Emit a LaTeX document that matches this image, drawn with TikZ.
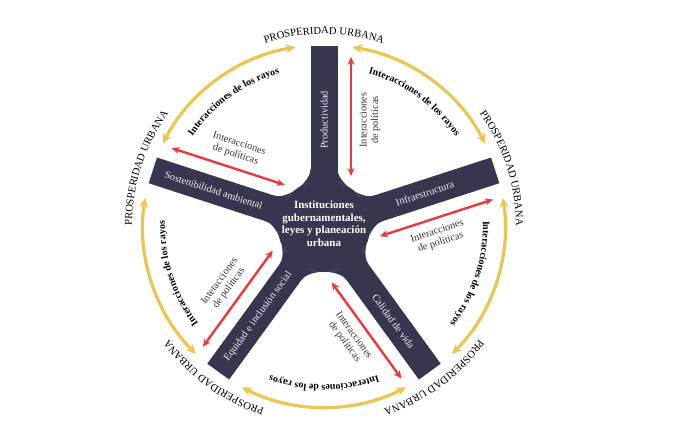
\documentclass[tikz,border=0pt]{standalone}
\usepackage{fontspec}
\setmainfont{Liberation Serif}
\usetikzlibrary{arrows.meta,decorations.text}
\definecolor{navy}{HTML}{37364F}
\definecolor{gold}{HTML}{EBC551}
\definecolor{redl}{HTML}{E8393D}
\definecolor{txtgray}{HTML}{333333}
\definecolor{lighttxt}{HTML}{ECECF2}
\begin{document}
\begin{tikzpicture}[x=1pt,y=1pt,
  spokelabel/.style={text=lighttxt,font=\fontsize{10.3}{12}\selectfont,inner sep=0pt},
  poltext/.style={text=txtgray,font=\fontsize{10.3}{11.5}\selectfont,align=center,inner sep=0pt},
  hubtext/.style={text=white,font=\bfseries\fontsize{11}{12.5}\selectfont,align=center,inner sep=0pt},
  redarrow/.style={draw=redl,line width=2.4pt,{Stealth[length=8pt,width=7pt]}-{Stealth[length=8pt,width=7pt]}},
  goldarrow/.style={draw=gold,line width=3.2pt,{Stealth[length=10pt,width=9pt]}-{Stealth[length=10pt,width=9pt]}}
]
\useasboundingbox (-324,-218) rectangle (355,226);
% spokes and hub
\fill[navy] (0,0) circle (46);
\foreach \a/\lab/\lr/\ld [count=\i] in {90/Productividad/90/106, 18/Infraestructura/18/106, -54/Calidad de vida/-54/118, -126/Equidad e inclusión social/54/112, 162/Sostenibilidad ambiental/-18/116}{
  \begin{scope}[rotate=\a]
    \fill[navy] (0,-13.5) rectangle (180,13.5);
    \fill[navy] (57,-13.5) .. controls (47,-13.5) and (38.5,-24.5) .. (30.8,-34.2)
       arc[start angle=-48, end angle=48, radius=46]
       .. controls (38.5,24.5) and (47,13.5) .. (57,13.5) -- cycle;
    \node[spokelabel,rotate=\lr] (s\i) at (\ld,0) {\lab};
    \coordinate (ra\i) at (50,-27);
    \coordinate (rb\i) at (169,-27);
    \draw[redarrow] (ra\i) -- (rb\i);
    \node[poltext,rotate=\lr] (pt\i) at (106,-46) {Interacciones\\de políticas};
  \end{scope}
  % outer labels
  \path[decorate,decoration={text along path,text align=center,
     text={|\fontsize{10.6}{12}\selectfont|PROSPERIDAD URBANA}}]
     (\a+30:192) arc[start angle=\a+30,end angle=\a-30,radius=192];
  % gold arcs
  \coordinate (ya\i) at (\a-9:181);
  \draw[goldarrow] (ya\i) arc[start angle=\a-9,end angle=\a-63,radius=181];
  \path[decorate,decoration={text along path,text align=center,
     text={|\bfseries\fontsize{10}{12}\selectfont|Interacciones de los rayos}}]
     (\a:159) arc[start angle=\a,end angle=\a-72,radius=159];
}
\node[hubtext] (hub) at (0,2) {Instituciones\\gubernamentales,\\leyes y planeación\\urbana};
\end{tikzpicture}
\end{document}
